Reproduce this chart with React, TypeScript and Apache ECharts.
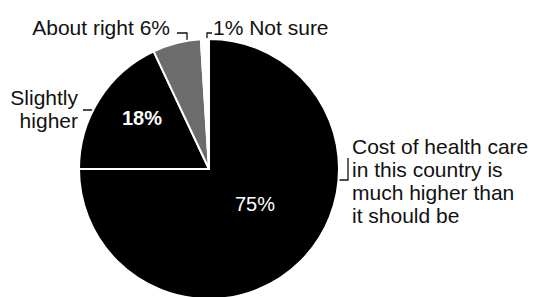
import React, { useEffect, useRef } from 'react';
import * as echarts from 'echarts';

const categories = [
  'Cost of health care in this country is much higher than it should be',
  'Slightly higher',
  'About right',
  'Not sure',
];
const values = [75, 18, 6, 1];
const insideLabels = ['75%', '18%', '', ''];
const outsideLabels = [
  'Cost of health care\nin this country is\nmuch higher than\nit should be',
  'Slightly\nhigher',
  'About right 6%',
  '1% Not sure',
];

const sliceColors = ['#000000', '#000000', '#6c6c6c', '#ffffff'];
const insideBold = [false, true, false, false];

// label placement (chart pixel coordinates)
const insidePos = [
  { x: 255, y: 204 },
  { x: 142, y: 118 },
  { x: 0, y: 0 },
  { x: 0, y: 0 },
];
const outsidePos = [
  { x: 352, y: 181, align: 'left', line: [[337, 180], [348, 180], [348, 158]] },
  { x: 78, y: 109, align: 'right', line: [[97, 117], [97, 110], [83, 110]] },
  { x: 170, y: 27, align: 'right', line: [[187, 57], [187, 33], [177, 33]] },
  { x: 213, y: 27, align: 'left', line: [[207, 45], [207, 33], [212, 33]] },
];

const FONT = '"Liberation Sans", Arial, Helvetica, sans-serif';

export default function App() {
  const ref = useRef<HTMLDivElement>(null);
  useEffect(() => {
    if (!ref.current) return;
    const chart = echarts.init(ref.current, undefined, { renderer: 'svg' });
    const center = [209, 169];
    const radius = 130;
    chart.setOption({
      animation: false,
      backgroundColor: '#ffffff',
      series: [
        {
          type: 'pie',
          center,
          radius,
          startAngle: 90,
          clockwise: true,
          silent: true,
          data: categories.map((name, i) => ({
            name,
            value: values[i],
            itemStyle: {
              color: sliceColors[i],
              borderColor: '#ffffff',
              borderWidth: 2,
            },
            label: { fontWeight: insideBold[i] ? 'bold' : 'normal' },
          })),
          label: {
            show: true,
            position: 'inside',
            color: '#ffffff',
            fontFamily: FONT,
            fontSize: 20,
            overflow: 'none',
            formatter: (p: any) => insideLabels[p.dataIndex],
          },
          labelLine: { show: false },
          labelLayout: (p: any) => {
            const pos = insidePos[p.dataIndex];
            return {
              x: pos.x,
              y: pos.y,
              align: 'center',
              verticalAlign: 'middle',
            };
          },
          emphasis: { disabled: true },
        },
        {
          type: 'pie',
          center,
          radius,
          startAngle: 90,
          clockwise: true,
          silent: true,
          data: categories.map((name, i) => ({
            name,
            value: values[i],
            itemStyle: { color: 'rgba(0,0,0,0)', borderWidth: 0 },
          })),
          label: {
            show: true,
            position: 'outside',
            color: '#111111',
            fontFamily: FONT,
            fontSize: 21,
            lineHeight: 23,
            overflow: 'none',
            edgeDistance: 0,
            bleedMargin: 0,
            formatter: (p: any) => outsideLabels[p.dataIndex],
          },
          labelLine: {
            show: true,
            lineStyle: { color: '#111111', width: 1.3 },
          },
          labelLayout: (p: any) => {
            const pos = outsidePos[p.dataIndex];
            return {
              x: pos.x,
              y: pos.y,
              align: pos.align,
              verticalAlign: 'middle',
              labelLinePoints: pos.line,
            };
          },
          emphasis: { disabled: true },
        },
      ],
    });
    return () => chart.dispose();
  }, []);
  return (
    <div
      ref={ref}
      style={{ position: 'fixed', left: 0, top: 0, width: 539, height: 297 }}
    />
  );
}
